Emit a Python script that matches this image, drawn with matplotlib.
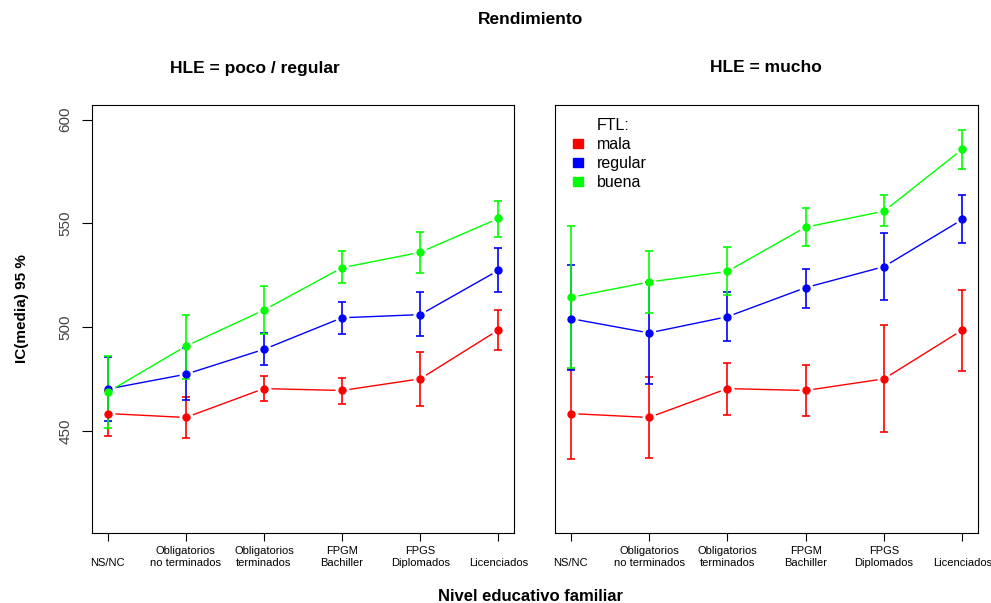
import matplotlib.pyplot as plt
from matplotlib.patches import Patch

plt.rcParams['font.family'] = ['Liberation Sans', 'DejaVu Sans']

niveles = ['\nNS/NC', 'Obligatorios\nno terminados', 'Obligatorios\nterminados',
           'FPGM\nBachiller', 'FPGS\nDiplomados', '\nLicenciados']
x = [1, 2, 3, 4, 5, 6]

# HLE = poco / regular
poco_mala = [458.5, 456.6, 470.5, 469.6, 475.2, 498.7]
poco_mala_lo = [447.8, 446.8, 464.4, 463.1, 462.2, 488.9]
poco_mala_hi = [469.2, 466.3, 476.6, 475.6, 488.1, 508.3]
poco_regular = [470.3, 477.4, 489.4, 504.6, 506.1, 527.4]
poco_regular_lo = [454.8, 464.9, 482.1, 496.8, 495.8, 517.1]
poco_regular_hi = [485.8, 489.9, 497.1, 512.2, 516.8, 538.0]
poco_buena = [468.8, 490.9, 508.3, 528.7, 536.1, 552.4]
poco_buena_lo = [451.6, 475.3, 497.0, 521.3, 526.1, 543.6]
poco_buena_hi = [486.2, 505.9, 519.9, 536.7, 545.8, 560.7]

# HLE = mucho
mucho_mala = [458.5, 456.6, 470.5, 469.6, 475.2, 498.7]
mucho_mala_lo = [436.7, 437.2, 458.0, 457.1, 449.4, 479.2]
mucho_mala_hi = [480.1, 476.1, 482.9, 482.1, 501.0, 518.1]
mucho_regular = [504.2, 497.3, 505.1, 519.1, 529.2, 551.9]
mucho_regular_lo = [479.3, 472.8, 493.6, 509.3, 513.0, 540.7]
mucho_regular_hi = [529.8, 521.8, 517.0, 528.2, 545.4, 563.5]
mucho_buena = [514.4, 521.8, 526.9, 548.2, 555.9, 585.7]
mucho_buena_lo = [480.4, 506.9, 515.4, 538.9, 548.7, 576.4]
mucho_buena_hi = [548.7, 536.7, 538.5, 557.5, 563.5, 594.9]

ftl = ['mala', 'regular', 'buena']
colores = ['#ff0000', '#0000ff', '#00ff00']


def draw_panel(ax, series):
    # lines first, then white discs to leave gaps round the points (like R type="b")
    for (mean, lo, hi), col in zip(series, colores):
        ax.plot(x, mean, color=col, lw=1.0, zorder=1)
    for mean, lo, hi in series:
        ax.plot(x, mean, ls='none', marker='o', ms=10, mfc='white', mec='none', zorder=2)
    for (mean, lo, hi), col in zip(series, colores):
        err = [[m - l for m, l in zip(mean, lo)], [h - m for m, h in zip(mean, hi)]]
        ax.errorbar(x, mean, yerr=err, ls='none', ecolor=col, elinewidth=1.2,
                    capsize=3, capthick=1.2, marker='o', ms=5, mec=col, mfc=col, zorder=3)
    ax.set_xlim(0.8, 6.2)
    ax.set_ylim(401, 607)
    ax.set_xticks(x)
    ax.set_xticklabels(niveles, fontsize=8, linespacing=1.3)
    ax.tick_params(axis='x', length=6, pad=3)


fig = plt.figure(figsize=(9.91, 6.03), dpi=100)
ax1 = fig.add_axes([92 / 991, 1 - 533 / 603, 422 / 991, 428 / 603])
ax2 = fig.add_axes([555 / 991, 1 - 533 / 603, 423 / 991, 428 / 603])

draw_panel(ax1, [(poco_mala, poco_mala_lo, poco_mala_hi),
                 (poco_regular, poco_regular_lo, poco_regular_hi),
                 (poco_buena, poco_buena_lo, poco_buena_hi)])
draw_panel(ax2, [(mucho_mala, mucho_mala_lo, mucho_mala_hi),
                 (mucho_regular, mucho_regular_lo, mucho_regular_hi),
                 (mucho_buena, mucho_buena_lo, mucho_buena_hi)])

ax1.set_yticks([450, 500, 550, 600])
ax1.tick_params(axis='y', length=7, pad=7, labelsize=11, labelcolor='#444444')
for lab in ax1.get_yticklabels():
    lab.set_rotation(90)
    lab.set_va('center')
ax2.set_yticks([])

handles = [Patch(color='none', label='FTL:')]
handles += [Patch(color=c, label=l) for c, l in zip(colores, ftl)]
ax2.legend(handles=handles, loc='upper left', bbox_to_anchor=(0.027, 0.985), frameon=False,
           fontsize=11.5, handlelength=0.65, handleheight=0.5, handletextpad=0.85,
           labelspacing=0.26, borderaxespad=0)

fig.text(0.535, 0.967, 'Rendimiento', ha='center', va='center', fontsize=12.5, fontweight='bold')
fig.text(255 / 991, 1 - 68 / 603, 'HLE = poco / regular', ha='center', va='center',
         fontsize=12.5, fontweight='bold')
fig.text(766 / 991, 1 - 68 / 603, 'HLE = mucho', ha='center', va='center',
         fontsize=12.5, fontweight='bold')
fig.text(0.535, 0.011, 'Nivel educativo familiar', ha='center', va='center', fontsize=12,
         fontweight='bold')
fig.text(0.022, 0.489, 'IC(media) 95 %', ha='center', va='center', rotation=90, fontsize=11,
         fontweight='bold')

fig.savefig('out.png', dpi=100)
